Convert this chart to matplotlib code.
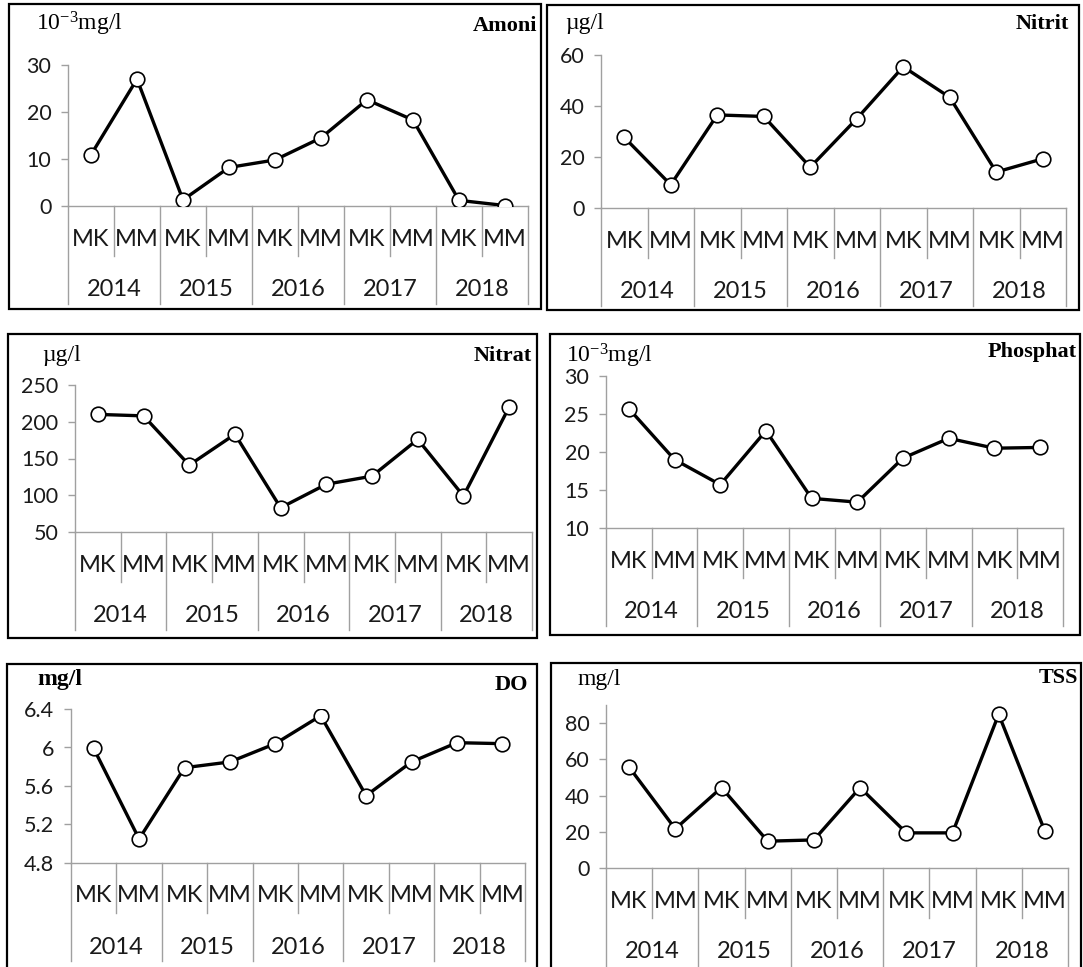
import numpy as np
import matplotlib.pyplot as plt
from matplotlib.patches import Rectangle
from matplotlib.transforms import blended_transform_factory

plt.rcParams['mathtext.default'] = 'regular'

# Du lieu doc tu hinh
seasons = ['MK', 'MM'] * 5
years = ['2014', '2015', '2016', '2017', '2018']

amoni = [10.9, 27.0, 1.3, 8.2, 9.8, 14.5, 22.6, 18.3, 1.2, 0.1]
nitrit = [27.7, 9.1, 36.5, 35.9, 16.0, 35.0, 55.4, 43.4, 14.1, 19.3]
nitrat = [210, 208, 141, 183, 83, 115, 126, 176, 99, 220]
phosphat = [25.7, 19.0, 15.7, 22.8, 13.9, 13.4, 19.2, 21.8, 20.5, 20.6]
do = [5.99, 5.05, 5.79, 5.85, 6.04, 6.33, 5.50, 5.85, 6.05, 6.04]
tss = [55.7, 21.6, 44.4, 14.8, 15.5, 44.4, 19.4, 19.4, 84.9, 20.3]

W, H = 1083, 967
fig = plt.figure(figsize=(W / 100, H / 100), dpi=100)


def fx(px):
    return px / W


def fy(py):
    return 1 - py / H


gray = '#a0a0a0'
txt = '#1a1a1a'

# (du lieu, ten, don vi, don vi dam, ylim, yticks, khung, truc, vi tri nhan)
panels = [
    (amoni, 'Amoni', '10$^{-3}$mg/l', False, (0, 30), [0, 10, 20, 30],
     (9, 4, 541, 309), (68, 65, 528, 206), (36, 24, 537, 26)),
    (nitrit, 'Nitrit', 'µg/l', False, (0, 60), [0, 20, 40, 60],
     (547, 5, 1079, 310), (601, 55, 1066, 208), (565, 24, 1069, 24)),
    (nitrat, 'Nitrat', 'µg/l', False, (50, 250), [50, 100, 150, 200, 250],
     (8, 334, 537, 638), (75, 385, 532, 532), (42, 356, 532, 356)),
    (phosphat, 'Phosphat', '10$^{-3}$mg/l', False, (10, 30), [10, 15, 20, 25, 30],
     (550, 334, 1080, 635), (606, 376, 1063, 528), (566, 356, 1077, 352)),
    (do, 'DO', 'mg/l', True, (4.8, 6.4), [4.8, 5.2, 5.6, 6.0, 6.4],
     (7, 664, 537, 980), (71, 709, 525, 863), (37, 679, 528, 685)),
    (tss, 'TSS', 'mg/l', False, (0, 90), [0, 20, 40, 60, 80],
     (551, 663, 1081, 980), (606, 705, 1068, 868), (577, 679, 1078, 678)),
]

x = np.arange(len(seasons))

for vals, title, unit, unit_bold, ylim, yticks, box, axbox, lab in panels:
    # khung vien cua tung bieu do
    fig.add_artist(Rectangle((fx(box[0]), fy(box[3])), fx(box[2] - box[0]),
                             (box[3] - box[1]) / H, transform=fig.transFigure,
                             fill=False, edgecolor='black', linewidth=1.6))

    l, t, r, b = axbox
    ax = fig.add_axes([fx(l), fy(b), fx(r - l), (b - t) / H])
    ax.plot(x, vals, color='black', linewidth=2.4, marker='o', markersize=10.5,
            markerfacecolor='white', markeredgecolor='black',
            markeredgewidth=1.2, zorder=3)
    ax.set_xlim(-0.5, len(seasons) - 0.5)
    ax.set_ylim(*ylim)
    ax.set_yticks(yticks)
    ax.set_yticklabels([f'{v:g}' for v in yticks], fontfamily='Lato',
                       fontsize=15.5, color=txt)
    ax.set_xticks([])
    for s in ['top', 'right']:
        ax.spines[s].set_visible(False)
    for s in ['left', 'bottom']:
        ax.spines[s].set_color(gray)
        ax.spines[s].set_linewidth(1.0)
    ax.tick_params(axis='y', direction='out', length=5, width=1.0,
                   color=gray, pad=7)
    ax.patch.set_alpha(0)

    # truc danh muc hai tang (mua / nam)
    tr = blended_transform_factory(ax.transData, fig.transFigure)
    short_bot = b + 50
    long_bot = min(b + 98, H + 5)
    for i in range(len(seasons) + 1):
        xs = i - 0.5
        yb = long_bot if i % 2 == 0 else short_bot
        ax.plot([xs, xs], [fy(b), fy(yb)], color=gray, linewidth=1.0,
                transform=tr, clip_on=False)
    for i, s in enumerate(seasons):
        ax.text(i, fy(b + 33), s, transform=tr, ha='center', va='center',
                fontfamily='Lato', fontsize=17, color=txt)
    for j, yr in enumerate(years):
        ax.text(2 * j + 0.5, fy(b + 84), yr, transform=tr, ha='center',
                va='center', fontfamily='Lato', fontsize=17, color=txt)

    # don vi va ten chi tieu
    fig.text(fx(lab[0]), fy(lab[1]), unit, ha='left', va='center',
             fontfamily='Liberation Serif', fontsize=17,
             fontweight='bold' if unit_bold else 'normal')
    fig.text(fx(lab[2]), fy(lab[3]), title, ha='right', va='center',
             fontfamily='Liberation Serif', fontsize=16, fontweight='bold')

fig.savefig('out.png', dpi=100)
